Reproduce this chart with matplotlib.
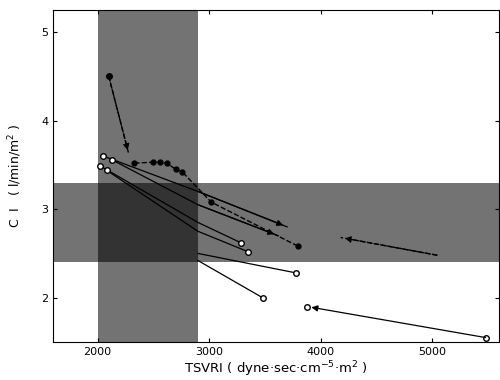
import matplotlib
matplotlib.use('Agg')
import matplotlib.pyplot as plt

# normal ranges (shaded bands)
tsvri_band = [2000, 2900]
ci_band = [2.4, 3.3]

# patient trajectories: TSVRI, CI
tr1_x = [2100, 2280]
tr1_y = [4.50, 3.62]
tr2_x = [2050, 2900, 3700]
tr2_y = [3.60, 3.20, 2.80]
tr3_x = [2125, 2900, 3620]
tr3_y = [3.56, 3.05, 2.70]
tr4_x = [2330, 2500, 2560, 2620, 2700, 2760, 3018, 3800]
tr4_y = [3.52, 3.53, 3.53, 3.52, 3.45, 3.42, 3.08, 2.58]
tr5_x = [2020, 2900, 3286]
tr5_y = [3.49, 2.85, 2.62]
tr6_x = [2080, 2900, 3348]
tr6_y = [3.44, 2.75, 2.52]
tr7_x = [2900, 3780]
tr7_y = [2.50, 2.28]
tr8_x = [2900, 3480]
tr8_y = [2.42, 2.00]
tr9_x = [5480, 3880]
tr9_y = [1.55, 1.90]
tr10_x = [5045, 4180]
tr10_y = [2.48, 2.68]

xticks = [2000, 3000, 4000, 5000]
yticks = [2, 3, 4, 5]

fig = plt.figure(figsize=(5, 3.8), dpi=100)
ax = fig.add_axes([0.106, 0.1, 0.892, 0.874])

ax.axvspan(tsvri_band[0], tsvri_band[1], color='black', alpha=0.55, lw=0)
ax.axhspan(ci_band[0], ci_band[1], color='black', alpha=0.55, lw=0)

def arrow(x0, y0, x1, y1, ls='-'):
    ax.annotate('', xy=(x1, y1), xytext=(x0, y0),
                arrowprops=dict(arrowstyle='-|>', color='black', lw=0.9,
                                ls=ls, mutation_scale=9, shrinkA=0, shrinkB=3))

# dashed, filled markers
ax.plot(tr1_x, tr1_y, ls='--', color='black', lw=1, marker='o', ms=4,
        markevery=[0])
arrow(tr1_x[0], tr1_y[0], tr1_x[1], tr1_y[1], '--')
ax.plot(tr4_x, tr4_y, ls='--', color='black', lw=1, marker='o', ms=3.5)
ax.plot(tr10_x, tr10_y, ls='--', color='black', lw=1)
arrow(tr10_x[0], tr10_y[0], tr10_x[1], tr10_y[1], '--')

# solid, open markers
for xs, ys in [(tr2_x, tr2_y), (tr3_x, tr3_y)]:
    ax.plot(xs, ys, color='black', lw=0.9, marker='o', ms=4, mfc='white',
            markevery=[0])
    arrow(xs[-2], ys[-2], xs[-1], ys[-1])
for xs, ys in [(tr5_x, tr5_y), (tr6_x, tr6_y), (tr7_x, tr7_y), (tr8_x, tr8_y)]:
    ax.plot(xs, ys, color='black', lw=0.9, marker='o', ms=4, mfc='white',
            markevery=[0, len(xs) - 1] if xs[0] < 2900 else [len(xs) - 1])
ax.plot(tr9_x, tr9_y, color='black', lw=0.9, marker='o', ms=4, mfc='white',
        ls='none')
arrow(tr9_x[0], tr9_y[0], tr9_x[1], tr9_y[1])

ax.set_xlim(1600, 5600)
ax.set_ylim(1.5, 5.25)
ax.set_xticks(xticks)
ax.set_yticks(yticks)
ax.tick_params(direction='in', top=True, right=True, labelsize=8, length=3)
ax.set_xlabel('TSVRI ( dyne·sec·cm$^{-5}$·m$^{2}$ )', fontsize=9.5, labelpad=2)
ax.set_ylabel('C  I   ( l/min/m$^{2}$ )', fontsize=9, labelpad=12)

plt.savefig('out.png', dpi=100)
